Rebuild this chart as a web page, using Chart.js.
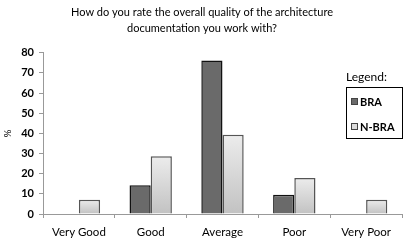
<!DOCTYPE html>
<html>
<head>
<meta charset="utf-8">
<script src="https://cdn.jsdelivr.net/npm/chart.js@4"></script>
<style>
  html, body { margin: 0; padding: 0; background: #fff; }
  #wrap { width: 414px; height: 247px; }
</style>
</head>
<body>
<div id="wrap"><canvas id="qualityChart" width="414" height="247"></canvas></div>
<script>
// Chart data
const categories = ['Very Good', 'Good', 'Average', 'Poor', 'Very Poor'];
const braValues = [0, 14.3, 76.2, 9.5, 0];
const nbraValues = [7.1, 28.6, 39.3, 17.9, 7.1];
const seriesNames = ['BRA', 'N-BRA'];
const titleLines = ['How do you rate the overall quality of the architecture', 'documentation you work with?'];

const FONT = "Lato, 'Open Sans', sans-serif";

// Light vertical gradient for each N-BRA bar
function lightGradient(context) {
    const chart = context.chart;
    const yScale = chart.scales.y;
    if (!chart.chartArea || !yScale) return '#d8d8d8';
    const value = context.raw || 0;
    const top = yScale.getPixelForValue(value);
    const base = yScale.getPixelForValue(0);
    if (base - top < 1) return '#d8d8d8';
    const g = chart.ctx.createLinearGradient(0, top, 0, base);
    g.addColorStop(0, '#ececec');
    g.addColorStop(1, '#c2c2c2');
    return g;
}

// Overlay legend drawn inside the plot, with the "Legend:" caption
const boxLegend = {
    id: 'boxLegend',
    afterDraw(chart) {
        const ctx = chart.ctx;
        ctx.save();
        ctx.fillStyle = '#000';
        ctx.font = '12px ' + FONT;
        ctx.textBaseline = 'middle';
        ctx.textAlign = 'left';
        ctx.fillText('Legend:', 346, 77);

        ctx.fillStyle = '#fff';
        ctx.fillRect(346, 87, 56, 51);
        ctx.strokeStyle = '#000';
        ctx.lineWidth = 1;
        ctx.strokeRect(346.5, 87.5, 56, 51);

        const swatches = ['#6a6a6a', '#dcdcdc'];
        const rows = [101, 126];
        seriesNames.forEach((name, i) => {
            ctx.fillStyle = swatches[i];
            ctx.fillRect(351, rows[i] - 3, 7, 7);
            ctx.strokeStyle = '#444';
            ctx.strokeRect(351.5, rows[i] - 2.5, 6, 6);
            ctx.fillStyle = '#000';
            ctx.font = 'bold 11px ' + FONT;
            ctx.fillText(name, 360, rows[i] + 1);
        });
        ctx.restore();
    }
};

Chart.defaults.font.family = FONT;
Chart.defaults.color = '#000';

const ctx = document.getElementById('qualityChart').getContext('2d');

new Chart(ctx, {
    type: 'bar',
    data: {
        labels: categories,
        datasets: [{
            label: seriesNames[0],
            data: braValues,
            backgroundColor: '#6a6a6a',
            borderColor: '#111',
            borderWidth: 1.5,
            borderSkipped: 'bottom'
        }, {
            label: seriesNames[1],
            data: nbraValues,
            backgroundColor: lightGradient,
            borderColor: '#555',
            borderWidth: 1.5,
            borderSkipped: 'bottom'
        }]
    },
    options: {
        responsive: false,
        animation: false,
        layout: {
            padding: { left: 2, right: 12, top: 0, bottom: 0 }
        },
        categoryPercentage: 0.59,
        barPercentage: 1.0,
        plugins: {
            legend: { display: false },
            tooltip: { enabled: false },
            title: {
                display: true,
                text: titleLines,
                font: { size: 11, weight: 'normal', lineHeight: 1.4 },
                color: '#000',
                padding: { top: 5, bottom: 17 }
            }
        },
        scales: {
            x: {
                grid: {
                    offset: true,
                    drawOnChartArea: false,
                    drawTicks: true,
                    tickLength: 4,
                    color: '#999'
                },
                border: { color: '#999' },
                ticks: {
                    font: { size: 11.5 },
                    color: '#000',
                    padding: 7,
                    maxRotation: 0
                },
                afterFit(scale) { scale.height = 33; }
            },
            y: {
                min: 0,
                max: 80,
                ticks: {
                    stepSize: 10,
                    font: { size: 11, weight: 'bold' },
                    color: '#000',
                    padding: 5
                },
                grid: {
                    drawOnChartArea: false,
                    tickLength: 4,
                    color: '#999'
                },
                border: { color: '#999' },
                title: {
                    display: true,
                    text: '%',
                    font: { size: 10 },
                    color: '#000',
                    padding: 0
                },
                afterFit(scale) { scale.width = 41; }
            }
        }
    },
    plugins: [boxLegend]
});
</script>
</body>
</html>
